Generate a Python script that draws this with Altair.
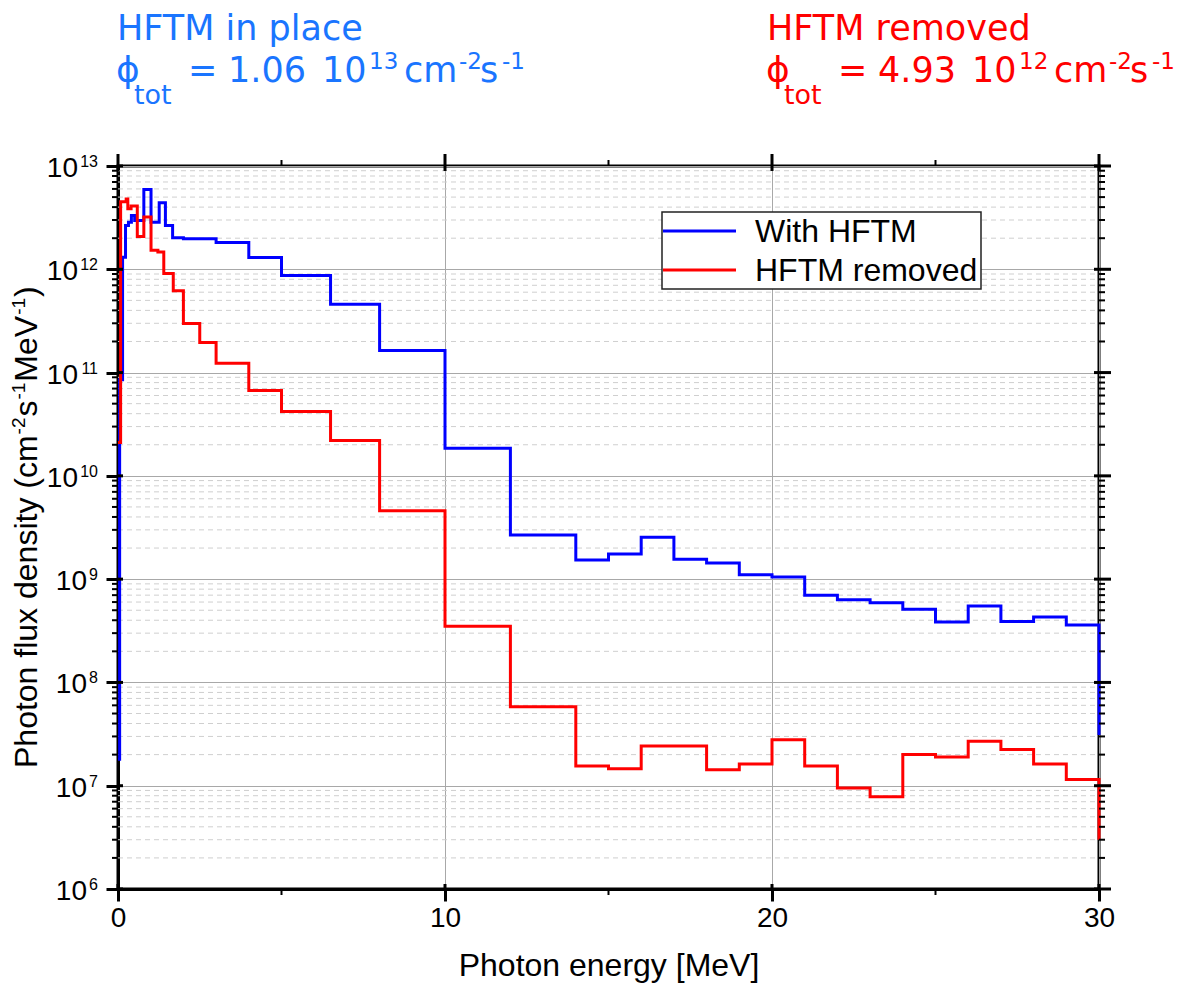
import altair as alt
import pandas as pd

# ---------------- data ----------------
# step histogram: lower bin edge (MeV) -> flux density; last entry is the closing point at 30 MeV
blue_E = [0, 0.05, 0.14, 0.23, 0.32, 0.41, 0.51, 0.79, 1.01, 1.26, 1.45, 1.67,
          2, 3, 4, 5, 6.5, 8, 10, 12,
          14, 15, 16, 17, 18, 19, 20, 21, 22, 23, 24, 25, 26, 27, 28, 29, 30]
blue_F = [1.8e7, 8.5e10, 1.31e12, 2.66e12, 2.86e12, 3.32e12, 2.97e12, 5.93e12, 2.86e12, 4.4e12, 2.66e12, 2.02e12,
          1.98e12, 1.82e12, 1.30e12, 8.7e11, 4.58e11, 1.64e11, 1.85e10, 2.67e9,
          1.53e9, 1.75e9, 2.55e9, 1.56e9, 1.43e9, 1.10e9, 1.05e9, 7.0e8, 6.3e8, 5.9e8, 5.1e8,
          3.85e8, 5.5e8, 3.9e8, 4.3e8, 3.6e8, 3.1e7]
red_E = [0, 0.08, 0.25, 0.3, 0.4, 0.59, 0.79, 1.01, 1.22, 1.4, 1.69,
         2, 2.5, 3, 4, 5, 6.5, 8, 10, 12,
         14, 15, 16, 17, 18, 19, 20, 21, 22, 23, 24, 25, 26, 27, 28, 29, 30]
red_F = [2.1e10, 4.5e12, 4.8e12, 3.85e12, 4.1e12, 2.08e12, 3.2e12, 1.53e12, 1.47e12, 9.1e11, 6.2e11,
         2.98e11, 1.96e11, 1.23e11, 6.7e10, 4.2e10, 2.2e10, 4.6e9, 3.5e8, 5.8e7,
         1.55e7, 1.46e7, 2.43e7, 2.43e7, 1.43e7, 1.62e7, 2.78e7, 1.55e7, 9.5e6, 7.8e6, 2.0e7,
         1.9e7, 2.7e7, 2.24e7, 1.62e7, 1.15e7, 3.0e6]

series_names = ["With HFTM", "HFTM removed"]
series_colors = ["#0000ff", "#ff0000"]
title_colors = ["#1a75ff", "#ff0000"]
panel_titles = ["HFTM in place", "HFTM removed"]
totals = ["1.06", "4.93"]
total_exps = ["13", "12"]

x_ticks = [0, 10, 20, 30]
x_minor = [5, 15, 25]
y_exps = [6, 7, 8, 9, 10, 11, 12, 13]
y_major = [10.0 ** k for k in y_exps]
y_minor = [m * 10.0 ** k for k in range(6, 13) for m in range(2, 10)]

x_title = "Photon energy [MeV]"
y_title_parts = [("Photon flux density (cm", 0), ("-2", 1), ("s", 0), ("-1", 1),
                 ("MeV", 0), ("-1", 1), (")", 0)]

# ---------------- layout ----------------
OX, OY = 118, 166          # plot origin on the page
W, H = 981, 723
AX_FONT = "Liberation Sans, Arial, sans-serif"
TT_FONT = "DejaVu Sans, sans-serif"

x_scale = alt.Scale(domain=[0, 30], nice=False, zero=False)
y_scale = alt.Scale(type="log", domain=[1e6, 1e13], nice=False)

X_AXIS = alt.Axis(
    values=x_ticks, title=x_title, titleFont=AX_FONT, titleFontSize=32,
    titleFontWeight="normal", titleColor="black", titlePadding=18,
    labelFont=AX_FONT, labelFontSize=28, labelColor="black", labelPadding=3,
    labelFlush=False, labelOverlap=False,
    tickSize=12, tickWidth=3, tickColor="black",
    domainColor="black", domainWidth=3,
    grid=True, gridColor="#a8a8a8", gridWidth=1)
Y_AXIS = alt.Axis(
    values=y_major, labels=False, title=None,
    tickSize=12, tickWidth=3, tickColor="black",
    domainColor="black", domainWidth=3,
    grid=True, gridColor="#a8a8a8", gridWidth=1)

df = pd.concat([
    pd.DataFrame({"E": blue_E, "F": blue_F, "series": series_names[0]}),
    pd.DataFrame({"E": red_E, "F": red_F, "series": series_names[1]}),
], ignore_index=True)

one = pd.DataFrame({"a": [0]})


def txt(t, ax, ay, size, color, font, angle=0, align="left"):
    return alt.Chart(one).mark_text(
        align=align, baseline="alphabetic", font=font, fontSize=size,
        color=color, angle=angle
    ).encode(x=alt.value(ax - OX), y=alt.value(ay - OY), text=alt.value(t))


# Arial / Liberation Sans advance widths (per em)
AW = {" ": .278, "(": .333, ")": .333, "-": .333, "1": .556, "2": .556,
      "P": .667, "h": .556, "o": .556, "t": .278, "n": .556, "f": .278, "l": .222,
      "u": .556, "x": .5, "d": .556, "e": .556, "s": .5, "i": .222, "y": .5,
      "c": .5, "m": .833, "M": .833, "V": .667}


def aw(t, size):
    return sum(AW.get(ch, .556) for ch in t) * size


xa = alt.X("E:Q", scale=x_scale, axis=X_AXIS)
ya = alt.Y("F:Q", scale=y_scale, axis=Y_AXIS)

layers = []

# minor (dashed) y grid
layers.append(alt.Chart(pd.DataFrame({"F": y_minor})).mark_rule(
    color="#cfcfcf", strokeWidth=1, strokeDash=[5, 4]
).encode(y=ya, x=alt.value(0), x2=alt.value(W)))

# data lines
layers.append(alt.Chart(df).mark_line(interpolate="step-after", strokeWidth=3).encode(
    x=xa, y=ya,
    color=alt.Color("series:N", scale=alt.Scale(domain=series_names, range=series_colors), legend=None),
))

# extra ticks (inward parts, mirrored right / top axes, minor ticks)
ymaj = pd.DataFrame({"F": y_major})
ymin = pd.DataFrame({"F": y_minor})
xmaj = pd.DataFrame({"E": x_ticks})
xmin = pd.DataFrame({"E": x_minor})
layers += [
    alt.Chart(ymaj).mark_rule(color="black", strokeWidth=3).encode(y=ya, x=alt.value(0), x2=alt.value(5)),
    alt.Chart(ymaj).mark_rule(color="black", strokeWidth=3).encode(y=ya, x=alt.value(W - 5), x2=alt.value(W + 12)),
    alt.Chart(ymin).mark_rule(color="black", strokeWidth=2).encode(y=ya, x=alt.value(-6), x2=alt.value(0)),
    alt.Chart(ymin).mark_rule(color="black", strokeWidth=2).encode(y=ya, x=alt.value(W), x2=alt.value(W + 6)),
    alt.Chart(xmaj).mark_rule(color="black", strokeWidth=3).encode(x=xa, y=alt.value(-12), y2=alt.value(5)),
    alt.Chart(xmaj).mark_rule(color="black", strokeWidth=3).encode(x=xa, y=alt.value(H - 5), y2=alt.value(H)),
    alt.Chart(xmin).mark_rule(color="black", strokeWidth=2).encode(x=xa, y=alt.value(-6), y2=alt.value(0)),
    alt.Chart(xmin).mark_rule(color="black", strokeWidth=2).encode(x=xa, y=alt.value(H), y2=alt.value(H + 6)),
]

# y tick labels "10" + superscript exponent
for ndig in (1, 2):
    sub = pd.DataFrame({"F": [10.0 ** k for k in y_exps if len(str(k)) == ndig],
                        "exp": [str(k) for k in y_exps if len(str(k)) == ndig],
                        "base": ["10" for k in y_exps if len(str(k)) == ndig]})
    exp_right = 98 - OX
    base_right = exp_right - 9 * ndig - 2
    layers.append(alt.Chart(sub).mark_text(align="right", baseline="alphabetic", font=AX_FONT,
                                           fontSize=28, color="black", dy=11).encode(
        y=ya, x=alt.value(base_right), text="base:N"))
    layers.append(alt.Chart(sub).mark_text(align="right", baseline="alphabetic", font=AX_FONT,
                                           fontSize=16, color="black", dy=1).encode(
        y=ya, x=alt.value(exp_right), text="exp:N"))

# y axis title (rotated, with superscripts)
ybase_main, ybase_sup = 37, 25
cur = 768
for t, sup in y_title_parts:
    size = 19 if sup else 32
    layers.append(txt(t, ybase_sup if sup else ybase_main, cur, size, "black", AX_FONT, angle=270))
    cur -= aw(t, size) + 1

# legend box
layers.append(alt.Chart(one).mark_rect(fill="white", stroke="#222222", strokeWidth=1.5).encode(
    x=alt.value(662 - OX), x2=alt.value(981 - OX), y=alt.value(212 - OY), y2=alt.value(289 - OY)))
for i, (name, col) in enumerate(zip(series_names, series_colors)):
    ly = 231 + 39 * i
    layers.append(alt.Chart(one).mark_rule(color=col, strokeWidth=3).encode(
        x=alt.value(663 - OX), x2=alt.value(736 - OX), y=alt.value(ly - OY)))
    layers.append(txt(name, 755, ly + 11, 32, "black", AX_FONT))

# headline annotations
for i in range(2):
    dx = 650 * i
    c = title_colors[i]
    pieces = [(panel_titles[i], 117, 40, 35), ("ϕ", 116, 82, 36), ("tot", 134, 104, 27),
              ("=", 188, 82, 35), (totals[i], 228, 82, 35), ("10", 322, 82, 35),
              (total_exps[i], 369, 69, 23), ("cm", 404, 82, 35), ("-2", 459, 69, 23),
              ("s", 480, 82, 35), ("-1", 502, 69, 23)]
    for t, x, y, s in pieces:
        layers.append(txt(t, x + dx, y, s, c, TT_FONT))

chart = alt.layer(*layers).properties(
    width=W, height=H,
    autosize=alt.AutoSizeParams(type="none"),
    padding={"left": OX - 8, "top": OY - 8, "right": 88, "bottom": 102},
    background="white",
).configure_view(stroke="black", strokeWidth=3)

chart.save("out.html", embed_options={"renderer": "svg", "actions": False})
